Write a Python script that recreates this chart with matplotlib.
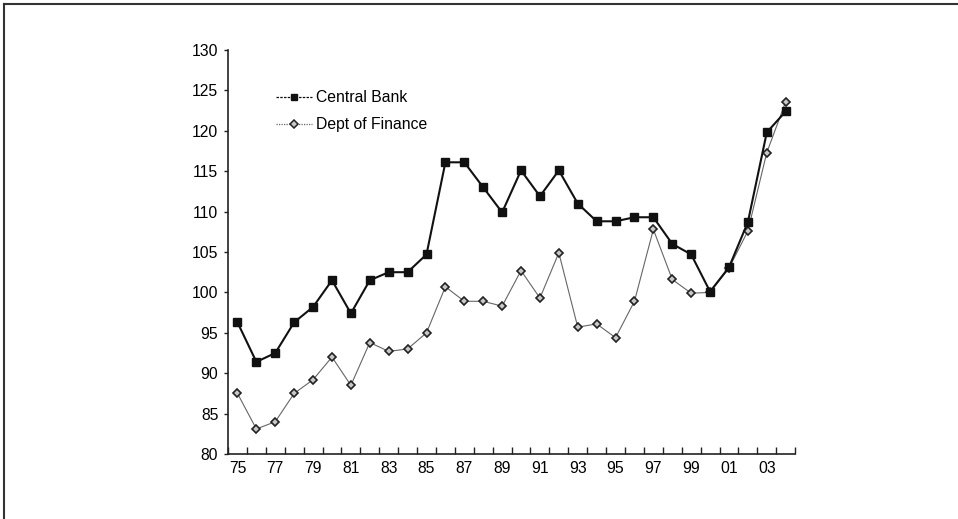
import matplotlib
matplotlib.use("Agg")
import matplotlib.pyplot as plt
from matplotlib.lines import Line2D
from matplotlib.ticker import FixedLocator, NullFormatter

plt.rcParams['font.family'] = ['Liberation Sans', 'DejaVu Sans']

years = ['75', '76', '77', '78', '79', '80', '81', '82', '83', '84',
         '85', '86', '87', '88', '89', '90', '91', '92', '93', '94',
         '95', '96', '97', '98', '99', '00', '01', '02', '03', '04']

central_bank = [96.3, 91.4, 92.5, 96.3, 98.2, 101.5, 97.4, 101.5, 102.5, 102.5,
                104.7, 116.1, 116.1, 113.0, 109.9, 115.1, 111.9, 115.1, 111.0, 108.8,
                108.8, 109.3, 109.3, 106.0, 104.7, 100.1, 103.1, 108.7, 119.8, 122.4]

dept_finance = [87.5, 83.1, 84.0, 87.5, 89.2, 92.0, 88.5, 93.8, 92.7, 93.0,
                95.0, 100.7, 98.9, 98.9, 98.3, 102.7, 99.3, 104.9, 95.7, 96.1,
                94.4, 98.9, 107.8, 101.6, 99.9, 100.0, 103.0, 107.6, 117.3, 123.6]

fig = plt.figure(figsize=(9.58, 5.19), dpi=100)
ax = fig.add_axes([0.238, 0.1252, 0.592, 0.7785])

x = list(range(len(years)))
ax.plot(x, dept_finance, color='#666666', lw=0.8, marker='D', markersize=4.5,
        markerfacecolor='#c8c8c8', markeredgecolor='#222222', markeredgewidth=1.2,
        label='Dept of Finance', zorder=2)
ax.plot(x, central_bank, color='#111111', lw=1.5, marker='s', markersize=5.5,
        markerfacecolor='#111111', markeredgecolor='#111111',
        label='Central Bank', zorder=3)

ax.set_xlim(-0.5, len(years) - 0.5)
ax.set_ylim(80, 130)
ax.set_yticks(range(80, 131, 5))

ax.set_xticks(x[::2])
ax.set_xticklabels(years[::2])
ax.tick_params(axis='x', which='major', length=0, pad=5, labelsize=11.3)
ax.xaxis.set_minor_locator(FixedLocator([i - 0.5 for i in range(len(years) + 1)]))
ax.xaxis.set_minor_formatter(NullFormatter())
ax.tick_params(axis='x', which='minor', direction='in', length=5, width=1, color='#222222')
ax.tick_params(axis='y', direction='out', length=3, width=1, color='#222222', labelsize=11.3, pad=4)

for s in ['top', 'right']:
    ax.spines[s].set_visible(False)
for s in ['left', 'bottom']:
    ax.spines[s].set_linewidth(1.2)
    ax.spines[s].set_color('#222222')

handles = [
    Line2D([], [], color='#111111', lw=0.9, ls=(0, (2, 1)), marker='s', markersize=5,
           markerfacecolor='#111111', markeredgecolor='#111111'),
    Line2D([], [], color='#666666', lw=0.9, ls=(0, (1, 1)), marker='D', markersize=4,
           markerfacecolor='#c8c8c8', markeredgecolor='#222222', markeredgewidth=1.1),
]
ax.legend(handles, ['Central Bank', 'Dept of Finance'], loc='upper left',
          bbox_to_anchor=(0.06, 0.935), frameon=False, fontsize=11.3,
          handlelength=2.3, handletextpad=0.25, labelspacing=0.75)

# frame lines on top and left of the picture
fig.add_artist(Line2D([0.0045, 1.0], [0.9915, 0.9915], transform=fig.transFigure,
                      color='#333333', lw=1.5))
fig.add_artist(Line2D([0.0045, 0.0045], [0.0, 0.9915], transform=fig.transFigure,
                      color='#333333', lw=1.5))

fig.savefig('out.png', dpi=100)
